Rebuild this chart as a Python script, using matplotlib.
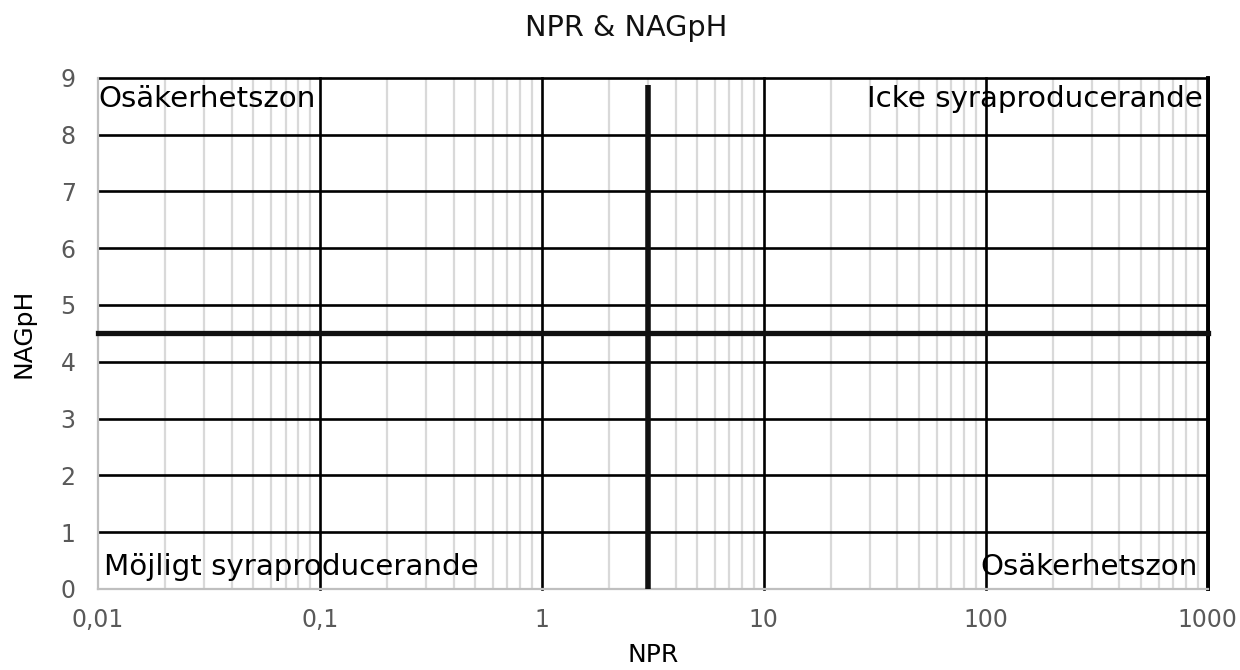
import numpy as np
import matplotlib.pyplot as plt
from matplotlib.ticker import FixedLocator, LogLocator, NullFormatter

# axis ticks
x_ticks = [0.01, 0.1, 1, 10, 100, 1000]
x_labels = ["0,01", "0,1", "1", "10", "100", "1000"]
y_ticks = [0, 1, 2, 3, 4, 5, 6, 7, 8, 9]

# limit lines (NPR = 3, NAGpH = 4.5)
npr_x = [3, 3]
npr_y = [0, 8.87]
nag_x = [0.01, 1000]
nag_y = [4.5, 4.5]

# zone labels
zones = ["Osäkerhetszon", "Icke syraproducerande",
         "Möjligt syraproducerande", "Osäkerhetszon"]
zone_x = [0.01, 950, 0.0107, 900]
zone_y = [8.63, 8.63, 0.38, 0.38]
zone_ha = ["left", "right", "left", "right"]

fig = plt.figure(figsize=(12.4, 6.7), dpi=100)
ax = fig.add_axes([0.079, 0.121, 0.895, 0.763])
ax.set_xscale("log")
ax.set_xlim(0.01, 1000)
ax.set_ylim(0, 9)

# minor vertical grid
ax.xaxis.set_minor_locator(LogLocator(base=10, subs=np.arange(2, 10)))
ax.xaxis.set_minor_formatter(NullFormatter())
ax.grid(True, which="minor", axis="x", color="#d9d9d9", lw=1.6)
ax.set_axisbelow(True)

# major grid drawn by hand so the axis lines stay grey
for xv in x_ticks[1:]:
    ax.axvline(xv, color="black", lw=1.9, zorder=1.5, clip_on=False)
for yv in y_ticks[1:]:
    ax.axhline(yv, color="black", lw=1.9, zorder=1.5, clip_on=False)
ax.axvline(x_ticks[-1], color="black", lw=2.8, zorder=1.6, clip_on=False)

ax.plot(npr_x, npr_y, color="#111111", lw=4.0, zorder=3, solid_capstyle="butt")
ax.plot(nag_x, nag_y, color="#111111", lw=3.8, zorder=3, clip_on=False,
        solid_capstyle="projecting")

for t, xv, yv, ha in zip(zones, zone_x, zone_y, zone_ha):
    ax.text(xv, yv, t, ha=ha, va="center", fontsize=21.2, color="black", zorder=4)

ax.xaxis.set_major_locator(FixedLocator(x_ticks))
ax.set_xticklabels(x_labels)
ax.set_yticks(y_ticks)
ax.tick_params(axis="both", which="both", length=0, labelsize=17,
               labelcolor="#595959")
ax.tick_params(axis="x", pad=14)
ax.tick_params(axis="y", pad=16)

for s in ["top", "right"]:
    ax.spines[s].set_visible(False)
for s in ["left", "bottom"]:
    ax.spines[s].set_color("#bfbfbf")
    ax.spines[s].set_linewidth(1.6)

fig.text(0.505, 1 - 28 / 670, "NPR & NAGpH", fontsize=20.7,
         ha="center", va="center", color="#111111")
ax.set_xlabel("NPR", fontsize=18, labelpad=8)
ax.set_ylabel("NAGpH", fontsize=18, labelpad=18)

plt.savefig("out.png", dpi=100)
